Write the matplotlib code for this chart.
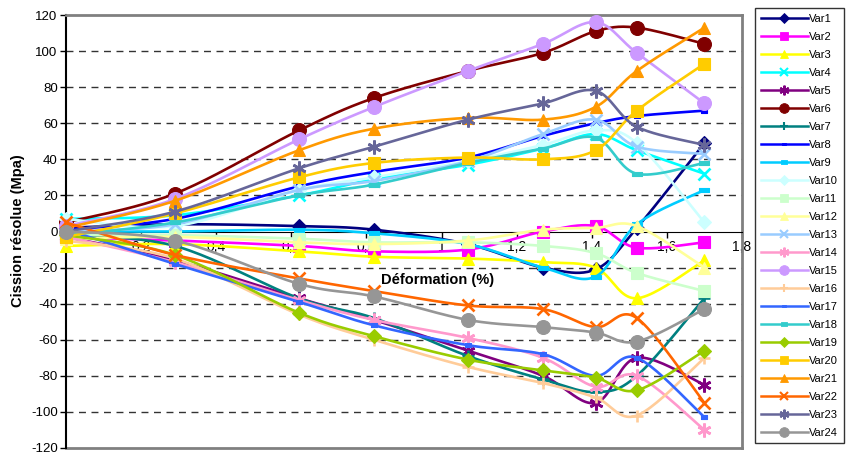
import numpy as np
import matplotlib
matplotlib.use('Agg')
import matplotlib.pyplot as plt

plt.rcParams['font.family'] = ['Liberation Sans', 'DejaVu Sans']

# deformation (%) at each measurement
deformation = [0, 0.29, 0.62, 0.82, 1.07, 1.27, 1.41, 1.52, 1.70]

var1 = [2, 4, 3, 1, -7, -20, -21, 2, 49]
var2 = [-3, -5, -8, -11, -10, 0, 3, -9, -6]
var3 = [-8, -7, -11, -14, -15, -17, -20, -37, -16]
var4 = [7, 9, 20, 29, 37, 46, 54, 45, 32]
var5 = [-3, -16, -37, -49, -66, -80, -95, -70, -85]
var6 = [5, 21, 56, 74, 89, 99, 111, 113, 104]
var7 = [-2, -8, -37, -48, -69, -82, -89, -80, -37]
var8 = [1, 7, 25, 33, 41, 53, 60, 64, 67]
var9 = [0, 0, 1, -1, -7, -20, -25, 4, 23]
var10 = [7, 3, 23, 30, 39, 48, 56, 49, 5]
var11 = [-2, -2, -4, -6, -6, -8, -12, -23, -33]
var12 = [-4, -3, -6, -7, -5, 1, 2, 3, -20]
var13 = [0, 4, 23, 28, 39, 54, 62, 47, 43]
var14 = [-3, -17, -38, -49, -59, -70, -86, -80, -110]
var15 = [3, 18, 51, 69, 89, 104, 116, 99, 71]
var16 = [-5, -15, -46, -60, -75, -84, -92, -102, -70]
var17 = [1, -18, -39, -52, -63, -68, -80, -70, -103]
var18 = [-2, 5, 20, 26, 38, 46, 52, 32, 38]
var19 = [-2, -13, -45, -58, -71, -77, -81, -88, -66]
var20 = [-3, 10, 30, 38, 41, 40, 45, 67, 93]
var21 = [2, 17, 45, 57, 63, 62, 69, 89, 113]
var22 = [5, -13, -26, -33, -41, -43, -53, -48, -95]
var23 = [0, 11, 35, 47, 62, 71, 78, 58, 48]
var24 = [0, -5, -29, -36, -49, -53, -56, -61, -43]

series = [var1, var2, var3, var4, var5, var6, var7, var8, var9, var10, var11, var12,
          var13, var14, var15, var16, var17, var18, var19, var20, var21, var22, var23, var24]
names = ['Var%d' % (i + 1) for i in range(24)]

colors = ['#000080', '#FF00FF', '#FFFF00', '#00FFFF', '#800080', '#800000',
          '#008080', '#0000FF', '#00CCFF', '#CCFFFF', '#CCFFCC', '#FFFF99',
          '#99CCFF', '#FF99CC', '#CC99FF', '#FFCC99', '#3366FF', '#33CCCC',
          '#99CC00', '#FFCC00', '#FF9900', '#FF6600', '#666699', '#969696']

star = (6, 2, 0)
short_bar = [(-1, -0.45), (1, -0.45), (1, 0.45), (-1, 0.45), (-1, -0.45)]
markers = ['D', 's', '^', 'x', star, 'o', '+', short_bar, short_bar, 'D', 's', '^',
           'x', star, 'o', '+', short_bar, short_bar, 'D', 's', '^', 'x', star, 'o']
msizes = [7.5, 9, 9, 9, 10, 10, 9, 5, 7, 7.5, 9, 9, 9, 10, 10, 9, 5, 7, 7.5, 9, 9, 9, 10, 10]


def smooth(x, y, n=24):
    # bezier smoothing through the points, like the spreadsheet "smoothed line"
    x = np.asarray(x, float)
    y = np.asarray(y, float)
    px = np.concatenate([[x[0]], x, [x[-1]]])
    py = np.concatenate([[y[0]], y, [y[-1]]])
    t = np.linspace(0, 1, n, endpoint=False)[:, None]
    out = []
    for i in range(len(x) - 1):
        p0 = np.array([px[i], py[i]])
        p1 = np.array([px[i + 1], py[i + 1]])
        p2 = np.array([px[i + 2], py[i + 2]])
        p3 = np.array([px[i + 3], py[i + 3]])
        c1 = p1 + (p2 - p0) / 6
        c2 = p2 - (p3 - p1) / 6
        seg = ((1 - t) ** 3) * p1 + 3 * ((1 - t) ** 2) * t * c1 + 3 * (1 - t) * t ** 2 * c2 + t ** 3 * p2
        out.append(seg)
    out.append(np.array([[x[-1], y[-1]]]))
    out = np.vstack(out)
    return out[:, 0], out[:, 1]


fig = plt.figure(figsize=(8.49, 4.55), dpi=100)
ax = fig.add_axes([66 / 849, 1 - 448 / 455, (742 - 66) / 849, (448 - 15) / 455])

handles = []
for i, vals in enumerate(series):
    sx, sy = smooth(deformation, vals)
    ax.plot(sx, sy, color=colors[i], lw=1.9, zorder=3 + i, clip_on=False)
    mk = markers[i]
    ax.plot(deformation, vals, linestyle='none', marker=mk, markersize=msizes[i],
            color=colors[i], markeredgecolor=colors[i],
            markeredgewidth=1.9 if mk in ('x', '+', star) else 0.8,
            zorder=3 + i, clip_on=False)
    h, = plt.plot([], [], color=colors[i], lw=1.8, marker=mk, markersize=msizes[i] * 0.7,
                  markeredgewidth=1.5 if mk in ('x', '+', star) else 0.6)
    handles.append(h)

ax.set_xlim(0, 1.8)
ax.set_ylim(-120, 120)

yt = np.arange(-120, 121, 20)
ax.set_yticks(yt)
ax.set_yticklabels([str(v) for v in yt], fontsize=9.5)
for v in yt:
    if v not in (0, 120, -120):
        ax.axhline(v, color='#333333', lw=1, linestyle=(0, (5, 4)), zorder=1)

xt = [0, 0.2, 0.4, 0.6, 0.8, 1.0, 1.2, 1.4, 1.6, 1.8]
ax.set_xticks(xt)
ax.set_xticklabels(['0', '0,2', '0,4', '0,6', '0,8', '1', '1,2', '1,4', '1,6', '1,8'], fontsize=9.5)

ax.spines['bottom'].set_position(('data', 0))
ax.spines['bottom'].set_color('black')
ax.spines['left'].set_color('black')
ax.spines['left'].set_linewidth(1.5)
for s in ('top', 'right'):
    ax.spines[s].set_color('#808080')
    ax.spines[s].set_linewidth(2)
ax.plot([0, 1], [0, 0], transform=ax.transAxes, color='#808080', lw=2, clip_on=False, zorder=2)
ax.tick_params(axis='both', length=4, width=1, direction='out', pad=2)

ax.text(0.99, -27, 'Déformation (%)', fontsize=10.5, fontweight='bold', ha='center', va='center', zorder=40)
fig.text(18 / 849, 1 - 231 / 455, 'Cission résolue (Mpa)', fontsize=10.5, fontweight='bold',
         rotation=90, ha='center', va='center')

leg = fig.legend(handles, names, loc='upper left', bbox_to_anchor=(755 / 849, 1 - 8 / 455),
                 fontsize=8, frameon=True, fancybox=False, edgecolor='black', handlelength=4.3,
                 labelspacing=0.72, borderpad=0.5, handletextpad=0.1, borderaxespad=0)
leg.get_frame().set_linewidth(1)

fig.savefig('out.png', dpi=100)
